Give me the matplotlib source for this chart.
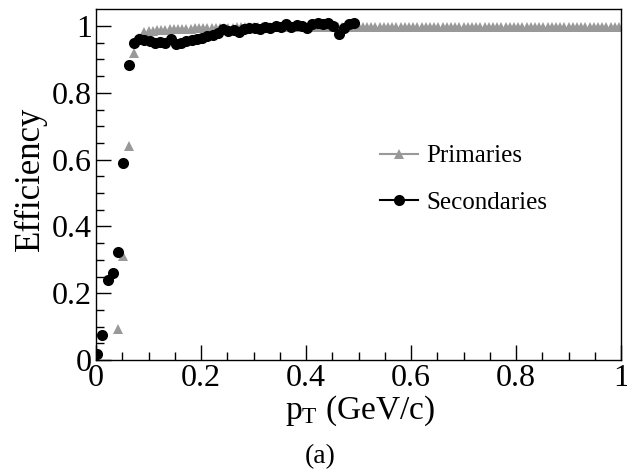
import numpy as np
import matplotlib
matplotlib.use("Agg")
import matplotlib.pyplot as plt
from matplotlib.lines import Line2D

plt.rcParams['font.family'] = ['Liberation Serif', 'DejaVu Serif']
plt.rcParams['mathtext.fontset'] = 'custom'
plt.rcParams['mathtext.rm'] = 'Liberation Serif'
plt.rcParams['mathtext.it'] = 'Liberation Serif:italic'

# ---- data ----
# Secondaries: bins of 0.01 in pT from 0 to 0.5
sec_bin_width = 0.01
sec_x0 = 0.002
sec_eff = [0.017, 0.074, 0.240, 0.260, 0.323, 0.589, 0.883, 0.948, 0.962, 0.958,
           0.955, 0.950, 0.953, 0.948, 0.960, 0.945, 0.948, 0.955, 0.958, 0.962,
           0.965, 0.970, 0.972, 0.980, 0.990, 0.985, 0.988, 0.982, 0.990, 0.995,
           0.995, 0.990, 0.998, 0.995, 1.000, 0.997, 1.005, 0.998, 1.002, 1.000,
           0.995, 1.005, 1.010, 1.005, 1.008, 1.000, 0.975, 0.995, 1.005, 1.010]

# Primaries: turn-on region (bins of 0.01) then plateau (bins of 0.008)
prim_on_x = [0.042, 0.052, 0.062, 0.072, 0.082, 0.092]
prim_on_eff = [0.094, 0.310, 0.640, 0.918, 0.965, 0.982]
prim_plateau_start = 0.100
prim_plateau_width = 0.008
prim_plateau_eff = [
    0.985, 0.986, 0.987, 0.988, 0.989, 0.990, 0.990, 0.991, 0.991, 0.992,
    0.992, 0.993, 0.993, 0.993, 0.994, 0.994, 0.994, 0.995, 0.995, 0.995,
    0.995, 0.996, 0.996, 0.996, 0.996, 0.996, 0.997, 0.997, 0.997, 0.997,
    0.997, 0.997, 0.997, 0.998, 0.998, 0.998, 0.998, 0.998, 0.998, 0.998,
    0.998, 0.998, 0.998, 0.998, 0.998, 0.998, 0.998, 0.998, 0.998, 0.998,
    0.998, 0.998, 0.998, 0.998, 0.998, 0.998, 0.998, 0.998, 0.998, 0.998,
    0.998, 0.998, 0.998, 0.998, 0.998, 0.998, 0.998, 0.998, 0.998, 0.998,
    0.998, 0.998, 0.998, 0.998, 0.998, 0.998, 0.998, 0.998, 0.998, 0.998,
    0.998, 0.998, 0.998, 0.998, 0.998, 0.998, 0.998, 0.998, 0.998, 0.998,
    0.998, 0.998, 0.998, 0.998, 0.998, 0.998, 0.998, 0.998, 0.998, 0.998,
    0.998, 0.998, 0.998, 0.998, 0.998, 0.998, 0.998, 0.998, 0.998, 0.998,
    0.998, 0.998, 0.998]

sec_x = sec_x0 + sec_bin_width * np.arange(len(sec_eff))
prim_x = np.concatenate([prim_on_x,
                         prim_plateau_start + prim_plateau_width * np.arange(len(prim_plateau_eff))])
prim_eff = np.concatenate([prim_on_eff, prim_plateau_eff])

labels = ["Primaries", "Secondaries"]
xlabel = r"p$_\mathrm{T}$ (GeV/c)"
ylabel = "Efficiency"
caption = "(a)"
tick_vals = [0, 0.2, 0.4, 0.6, 0.8, 1.0]
tick_labels = ["0", "0.2", "0.4", "0.6", "0.8", "1"]

# ---- figure ----
fig = plt.figure(figsize=(6.27, 4.76), dpi=100)
ax = fig.add_axes([96/627, 1 - 360/476, (621-96)/627, (360-9)/476])

gray = '#999999'
ax.plot(prim_x, prim_eff, linestyle='none', marker='^', color=gray,
        markersize=7, markeredgewidth=0, label=labels[0])
ax.plot(sec_x, sec_eff, linestyle='none', marker='o', color='black',
        markersize=8, markeredgewidth=0, label=labels[1])

ax.set_xlim(0, 1)
ax.set_ylim(0, 1.051)

ax.set_xticks(tick_vals)
ax.set_xticklabels(tick_labels)
ax.set_xticks(np.arange(0, 1.0001, 0.05), minor=True)
ax.set_yticks(tick_vals)
ax.set_yticklabels(tick_labels)
ax.set_yticks(np.arange(0, 1.0001, 0.05), minor=True)

ax.tick_params(which='both', direction='in', top=False, right=False,
               labelsize=23, width=1, color='black')
ax.tick_params(which='major', length=11)
ax.tick_params(which='minor', length=6)
ax.tick_params(axis='x', pad=3)
ax.tick_params(axis='y', pad=3)
for s in ax.spines.values():
    s.set_linewidth(1)

ax.set_xlabel(xlabel, fontsize=24)
ax.xaxis.set_label_coords((360-96)/525, -0.095)
ax.set_ylabel(ylabel, fontsize=25)
ax.yaxis.set_label_coords((14-96)/525, (360-179)/351)
ax.yaxis.label.set_va('top')

fig.text(320/627, 1 - 457/476, caption, fontsize=20, ha='center', va='center')

handles = [Line2D([], [], color=gray, marker='^', markersize=7, lw=1.5, markeredgewidth=0),
           Line2D([], [], color='black', marker='o', markersize=8, lw=1.5, markeredgewidth=0)]
ax.legend(handles, labels, frameon=False, loc='upper left',
          bbox_to_anchor=((380-96)/525, (360-145)/351), borderpad=0,
          fontsize=18, handlelength=1.5, handletextpad=0.35, labelspacing=0.95,
          borderaxespad=0)

fig.savefig("out.png", dpi=100)
